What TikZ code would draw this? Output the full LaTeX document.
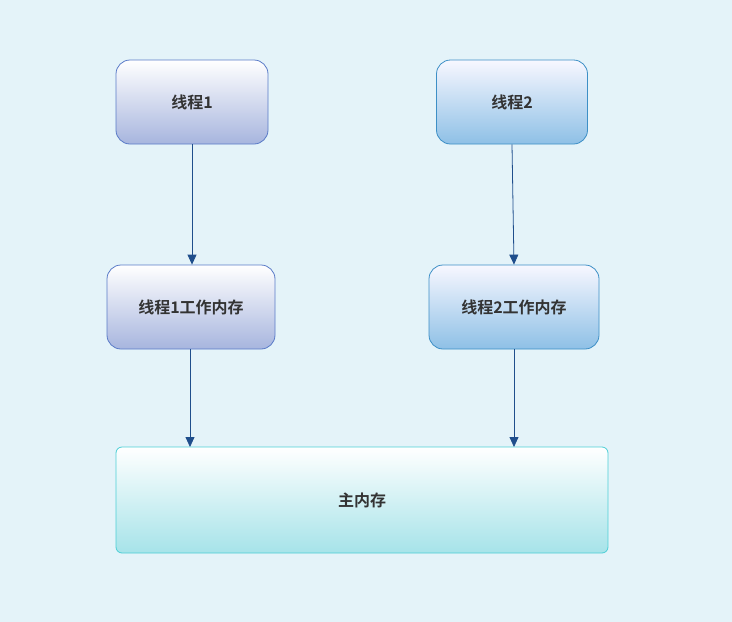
\documentclass[tikz,border=0pt]{standalone}
\usepackage{fontspec}
\newfontfamily\cjk{Noto Sans CJK SC}[BoldFont={Noto Sans CJK SC Bold}]
\usetikzlibrary{arrows.meta}
\definecolor{bg}{HTML}{E4F3F9}
\definecolor{lavb}{HTML}{A7B5DE}
\definecolor{lavd}{HTML}{5A7BC8}
\definecolor{blub}{HTML}{8EC0E6}
\definecolor{blud}{HTML}{3D8FC6}
\definecolor{cyb}{HTML}{A6E3E9}
\definecolor{cyd}{HTML}{4CCFD6}
\definecolor{arr}{HTML}{1F4E8C}
\tikzset{
  box/.style={rounded corners=14pt, line width=0.8pt, font=\cjk\bfseries\fontsize{16}{19}\selectfont, text=black!80, inner sep=0pt},
  lav/.style={box, draw=lavd, top color=white, bottom color=lavb},
  blu/.style={box, draw=blud, top color=blue!3!white, bottom color=blub},
  cy/.style={box, rounded corners=6pt, draw=cyd, top color=white, bottom color=cyb},
  link/.style={arr, line width=0.8pt, -{Triangle[length=10pt,width=9pt]}}
}
\begin{document}
\begin{tikzpicture}[x=1pt,y=-1pt]
\fill[bg] (0,0) rectangle (732,622);
\useasboundingbox (0,0) rectangle (732,622);
\node[lav, minimum width=152pt, minimum height=84pt] (t1) at (192,102) {线程1};
\node[blu, minimum width=151pt, minimum height=84pt] (t2) at (512,102) {线程2};
\node[lav, minimum width=168pt, minimum height=84pt] (w1) at (191,307) {线程1工作内存};
\node[blu, minimum width=170pt, minimum height=84pt] (w2) at (514,307) {线程2工作内存};
\node[cy, minimum width=492pt, minimum height=106pt] (m) at (362,500) {主内存};
\draw[link] (t1.south) -- (w1.north -| t1.south);
\draw[link] (t2.south) -- (w2.north);
\coordinate (a1) at (190,447);
\coordinate (a2) at (514,447);
\draw[link] (w1.south -| a1) -- (a1);
\draw[link] (w2.south) -- (a2);
\end{tikzpicture}
\end{document}
